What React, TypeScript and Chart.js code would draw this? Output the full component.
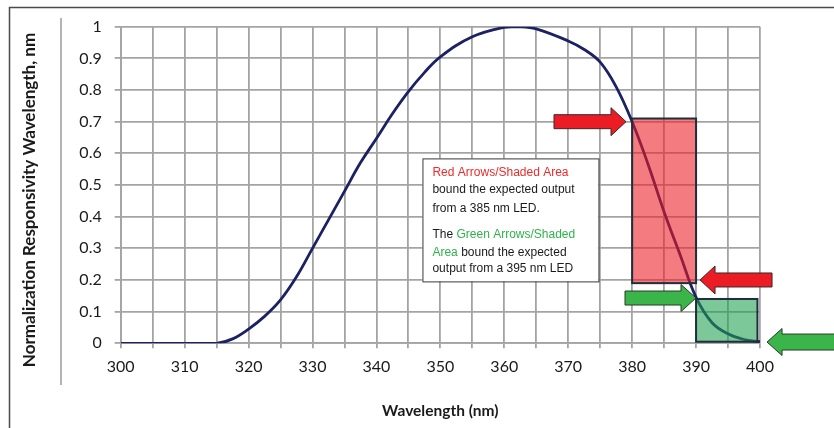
import React, { useEffect, useRef } from 'react';
import { Chart, registerables } from 'chart.js';

Chart.register(...registerables);

// ---- data ----
const wavelengths = [300, 305, 310, 315, 317.5, 320, 322.5, 325, 327.5, 330, 332.5, 335, 337.5, 340, 342.5, 345, 347.5, 350, 355, 360, 362.5, 365, 370, 372.5, 375, 377.5, 380, 382.5, 385, 387.5, 390, 392.5, 395, 397.5, 400];
const responsivity = [0, 0, 0, 0, 0.014, 0.045, 0.085, 0.137, 0.21, 0.30, 0.39, 0.48, 0.57, 0.647, 0.725, 0.795, 0.855, 0.905, 0.968, 0.998, 1.0, 0.993, 0.955, 0.928, 0.888, 0.81, 0.70, 0.565, 0.415, 0.28, 0.145, 0.065, 0.03, 0.012, 0.005];

const xTickLabels = [300, 310, 320, 330, 340, 350, 360, 370, 380, 390, 400];
const yTickLabels = [0, 0.1, 0.2, 0.3, 0.4, 0.5, 0.6, 0.7, 0.8, 0.9, 1];

// shaded bands (wavelength range, responsivity range)
const redBandX = [380, 390];
const redBandY = [0.19, 0.71];
const greenBandX = [390, 399.6];
const greenBandY = [0.005, 0.14];

// arrow tips (wavelength, responsivity) and direction (1 = pointing right, -1 = pointing left)
const redArrowTipsX = [379.04, 390.62];
const redArrowTipsY = [0.70, 0.20];
const redArrowDirs = [1, -1];
const greenArrowTipsX = [389.99, 401.1];
const greenArrowTipsY = [0.143, 0.004];
const greenArrowDirs = [1, -1];

// note box anchor (top-left, in data units)
const noteAnchor = [347.2, 0.584];

const yTitle = 'Normalization Responsivity Wavelength, nm';
const xTitle = 'Wavelength (nm)';

type Seg = { t: string; c: string };
const noteLines: Seg[][] = [
  [{ t: 'Red Arrows/Shaded Area', c: '#ee2a2a' }],
  [{ t: 'bound the expected output', c: '#1a1a1a' }],
  [{ t: 'from a 385 nm LED.', c: '#1a1a1a' }],
  [{ t: 'The ', c: '#1a1a1a' }, { t: 'Green Arrows/Shaded', c: '#2fb24c' }],
  [{ t: 'Area', c: '#2fb24c' }, { t: ' bound the expected', c: '#1a1a1a' }],
  [{ t: 'output from a 395 nm LED', c: '#1a1a1a' }],
];

function drawArrow(ctx: CanvasRenderingContext2D, tipX: number, tipY: number, dir: number, length: number, body: number, head: number, headLen: number, fill: string, stroke: string) {
  const tail = tipX - dir * length;
  const neck = tipX - dir * headLen;
  ctx.beginPath();
  ctx.moveTo(tail, tipY - body / 2);
  ctx.lineTo(neck, tipY - body / 2);
  ctx.lineTo(neck, tipY - head / 2);
  ctx.lineTo(tipX, tipY);
  ctx.lineTo(neck, tipY + head / 2);
  ctx.lineTo(neck, tipY + body / 2);
  ctx.lineTo(tail, tipY + body / 2);
  ctx.closePath();
  ctx.fillStyle = fill;
  ctx.fill();
  ctx.lineWidth = 1;
  ctx.strokeStyle = stroke;
  ctx.stroke();
}

const decorPlugin = {
  id: 'decor',
  beforeDraw(chart: any) {
    const ctx = chart.ctx as CanvasRenderingContext2D;
    ctx.save();
    ctx.fillStyle = '#ffffff';
    ctx.fillRect(0, 0, chart.width, chart.height);
    // outer frame (top and left edges)
    ctx.strokeStyle = '#4a4a4a';
    ctx.lineWidth = 1.5;
    ctx.beginPath();
    ctx.moveTo(9.5, chart.height);
    ctx.lineTo(9.5, 7.5);
    ctx.lineTo(chart.width, 7.5);
    ctx.stroke();
    // separator line
    ctx.strokeStyle = '#b4b4b4';
    ctx.lineWidth = 2;
    ctx.beginPath();
    ctx.moveTo(61, 18);
    ctx.lineTo(61, 385);
    ctx.stroke();
    // y title
    ctx.translate(30, 200);
    ctx.rotate(-Math.PI / 2);
    ctx.font = 'bold 17px Lato';
    ctx.fillStyle = '#1a1a1a';
    ctx.textAlign = 'center';
    ctx.textBaseline = 'middle';
    ctx.fillText(yTitle, 0, 0);
    ctx.restore();
  },
  afterDatasetsDraw(chart: any) {
    const ctx = chart.ctx as CanvasRenderingContext2D;
    const xs = chart.scales.x;
    const ys = chart.scales.y;
    ctx.save();
    // shaded bands
    const band = (bx: number[], by: number[], fill: string) => {
      const x0 = xs.getPixelForValue(bx[0]);
      const x1 = xs.getPixelForValue(bx[1]);
      const y0 = ys.getPixelForValue(by[1]);
      const y1 = ys.getPixelForValue(by[0]);
      ctx.fillStyle = fill;
      ctx.fillRect(x0, y0, x1 - x0, y1 - y0);
      ctx.strokeStyle = '#1f2d3d';
      ctx.lineWidth = 2;
      ctx.strokeRect(x0, y0, x1 - x0, y1 - y0);
    };
    band(redBandX, redBandY, 'rgba(236, 28, 36, 0.58)');
    band(greenBandX, greenBandY, 'rgba(30, 160, 80, 0.58)');

    // arrows
    redArrowTipsX.forEach((v, i) => {
      drawArrow(ctx, xs.getPixelForValue(v), ys.getPixelForValue(redArrowTipsY[i]), redArrowDirs[i], 72, 14, 28, 15, '#ec1c24', '#3a2a2a');
    });
    greenArrowTipsX.forEach((v, i) => {
      const len = i === 1 ? 80 : 71;
      const body = i === 1 ? 16 : 14;
      drawArrow(ctx, xs.getPixelForValue(v), ys.getPixelForValue(greenArrowTipsY[i]), greenArrowDirs[i], len, body, 27, 15, '#3bb54a', '#2a3a2a');
    });

    // note box
    const bx = xs.getPixelForValue(noteAnchor[0]);
    const by = ys.getPixelForValue(noteAnchor[1]);
    const bw = 176;
    const bh = 123;
    ctx.fillStyle = '#ffffff';
    ctx.fillRect(bx, by, bw, bh);
    ctx.strokeStyle = '#3a3a3a';
    ctx.lineWidth = 1;
    ctx.strokeRect(bx + 0.5, by + 0.5, bw, bh);
    ctx.font = '12px "Liberation Sans", Arial, sans-serif';
    ctx.textBaseline = 'middle';
    ctx.textAlign = 'left';
    const offsets = [14.4, 31.7, 50, 76.7, 94, 110.7];
    noteLines.forEach((line, i) => {
      let x = bx + 10;
      line.forEach((seg) => {
        ctx.fillStyle = seg.c;
        ctx.fillText(seg.t, x, by + offsets[i]);
        x += ctx.measureText(seg.t).width;
      });
    });
    ctx.restore();
  },
};

export default function App() {
  const canvasRef = useRef<HTMLCanvasElement | null>(null);

  useEffect(() => {
    document.body.style.margin = '0';
    const canvas = canvasRef.current;
    if (!canvas) return;
    const chart = new Chart(canvas, {
      type: 'line',
      data: {
        datasets: [
          {
            data: wavelengths.map((w, i) => ({ x: w, y: responsivity[i] })),
            borderColor: '#1c2163',
            borderWidth: 2.8,
            pointRadius: 0,
            fill: false,
            tension: 0.4,
          },
        ],
      },
      options: {
        animation: false,
        responsive: false,
        maintainAspectRatio: false,
        layout: { padding: { left: 0, right: 74, top: 26.7, bottom: 0 } },
        plugins: { legend: { display: false }, tooltip: { enabled: false }, title: { display: false } },
        scales: {
          x: {
            type: 'linear',
            min: 300,
            max: 400,
            ticks: {
              stepSize: 5,
              autoSkip: false,
              maxRotation: 0,
              padding: 9,
              color: '#1a1a1a',
              font: { family: 'Lato', size: 16 },
              callback: (v: any) => (xTickLabels.includes(Number(v)) ? String(v) : ''),
            },
            grid: { color: '#a4a4a4', lineWidth: 1.8, tickLength: 5 },
            border: { color: '#a4a4a4', width: 1.8 },
            title: {
              display: true,
              text: xTitle,
              color: '#1a1a1a',
              font: { family: 'Lato', size: 15.5, weight: 'bold' },
              padding: { top: 0, bottom: 7.5 },
            },
            afterFit: (s: any) => {
              s.height = 84.7;
            },
          },
          y: {
            type: 'linear',
            min: 0,
            max: 1,
            afterBuildTicks: (s: any) => {
              s.ticks = yTickLabels.map((v) => ({ value: v }));
            },
            ticks: {
              padding: 13,
              color: '#1a1a1a',
              font: { family: 'Lato', size: 16 },
              callback: (v: any) => String(Math.round(Number(v) * 10) / 10),
            },
            grid: { color: '#a4a4a4', lineWidth: 1.8, tickLength: 6 },
            border: { color: '#a4a4a4', width: 1.8 },
            afterFit: (s: any) => {
              s.width = 120.7;
            },
          },
        },
      },
      plugins: [decorPlugin],
    } as any);
    return () => {
      chart.destroy();
    };
  }, []);

  return (
    <div style={{ width: 834, height: 428 }}>
      <canvas ref={canvasRef} width={834} height={428} style={{ display: 'block', width: 834, height: 428 }} />
    </div>
  );
}
